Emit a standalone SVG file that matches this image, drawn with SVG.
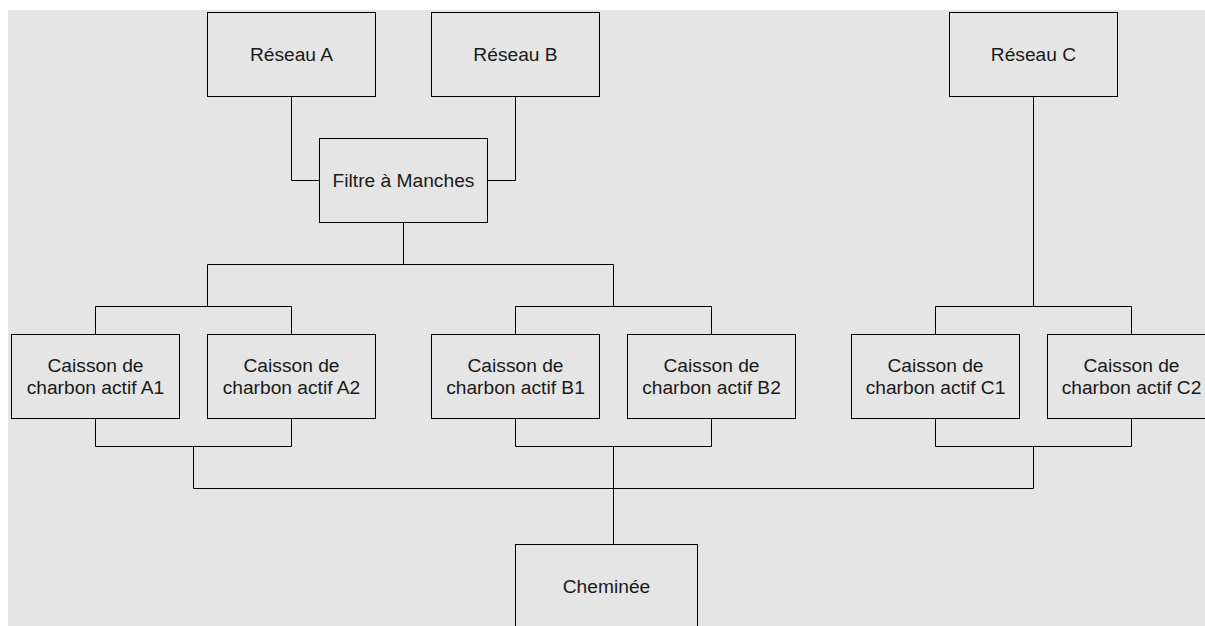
<svg xmlns="http://www.w3.org/2000/svg" width="1205" height="626" viewBox="0 0 1205 626">
<style>
.bg{fill:#e5e5e5}
.box{fill:#e5e5e5;stroke:#000;stroke-width:1}
.lbl{font-family:"Liberation Sans",Arial,sans-serif;font-size:19.2px;fill:#1a1a1a;text-anchor:middle}
.conn{fill:none;stroke:#000;stroke-width:1}
</style>
<rect class="bg" x="8" y="10" width="1197" height="616"/>
<g id="connectors">
<path class="conn" d="M291.5 96.5V180.5H319.5"/>
<path class="conn" d="M515.5 96.5V180.5H487.5"/>
<path class="conn" d="M403.5 222.5V264.5"/>
<path class="conn" d="M207.5 306.5V264.5H613.5V306.5"/>
<path class="conn" d="M95.5 334.5V306.5H291.5V334.5"/>
<path class="conn" d="M515.5 334.5V306.5H711.5V334.5"/>
<path class="conn" d="M1033.5 96.5V306.5"/>
<path class="conn" d="M935.5 334.5V306.5H1131.5V334.5"/>
<path class="conn" d="M95.5 418.5V446.5H291.5V418.5"/>
<path class="conn" d="M515.5 418.5V446.5H711.5V418.5"/>
<path class="conn" d="M935.5 418.5V446.5H1131.5V418.5"/>
<path class="conn" d="M193.5 446.5V488.5H1033.5V446.5"/>
<path class="conn" d="M613.5 446.5V544.5"/>
</g>
<g id="reseau-a"><rect class="box" x="207.5" y="12.5" width="168" height="84"/><text class="lbl" x="291.5" y="61.2">Réseau A</text></g>
<g id="reseau-b"><rect class="box" x="431.5" y="12.5" width="168" height="84"/><text class="lbl" x="515.5" y="61.2">Réseau B</text></g>
<g id="reseau-c"><rect class="box" x="949.5" y="12.5" width="168" height="84"/><text class="lbl" x="1033.5" y="61.2">Réseau C</text></g>
<g id="filtre"><rect class="box" x="319.5" y="138.5" width="168" height="84"/><text class="lbl" x="403.5" y="187.2">Filtre à Manches</text></g>
<g id="caisson-a1"><rect class="box" x="11.5" y="334.5" width="168" height="84"/><text class="lbl" x="95.5" y="372.2">Caisson de</text><text class="lbl" x="95.5" y="394.2">charbon actif A1</text></g>
<g id="caisson-a2"><rect class="box" x="207.5" y="334.5" width="168" height="84"/><text class="lbl" x="291.5" y="372.2">Caisson de</text><text class="lbl" x="291.5" y="394.2">charbon actif A2</text></g>
<g id="caisson-b1"><rect class="box" x="431.5" y="334.5" width="168" height="84"/><text class="lbl" x="515.5" y="372.2">Caisson de</text><text class="lbl" x="515.5" y="394.2">charbon actif B1</text></g>
<g id="caisson-b2"><rect class="box" x="627.5" y="334.5" width="168" height="84"/><text class="lbl" x="711.5" y="372.2">Caisson de</text><text class="lbl" x="711.5" y="394.2">charbon actif B2</text></g>
<g id="caisson-c1"><rect class="box" x="851.5" y="334.5" width="168" height="84"/><text class="lbl" x="935.5" y="372.2">Caisson de</text><text class="lbl" x="935.5" y="394.2">charbon actif C1</text></g>
<g id="caisson-c2"><rect class="box" x="1047.5" y="334.5" width="168" height="84"/><text class="lbl" x="1131.5" y="372.2">Caisson de</text><text class="lbl" x="1131.5" y="394.2">charbon actif C2</text></g>
<g id="cheminee"><rect class="box" x="515.5" y="544.5" width="182" height="84"/><text class="lbl" x="606.5" y="593.2">Cheminée</text></g>
</svg>
